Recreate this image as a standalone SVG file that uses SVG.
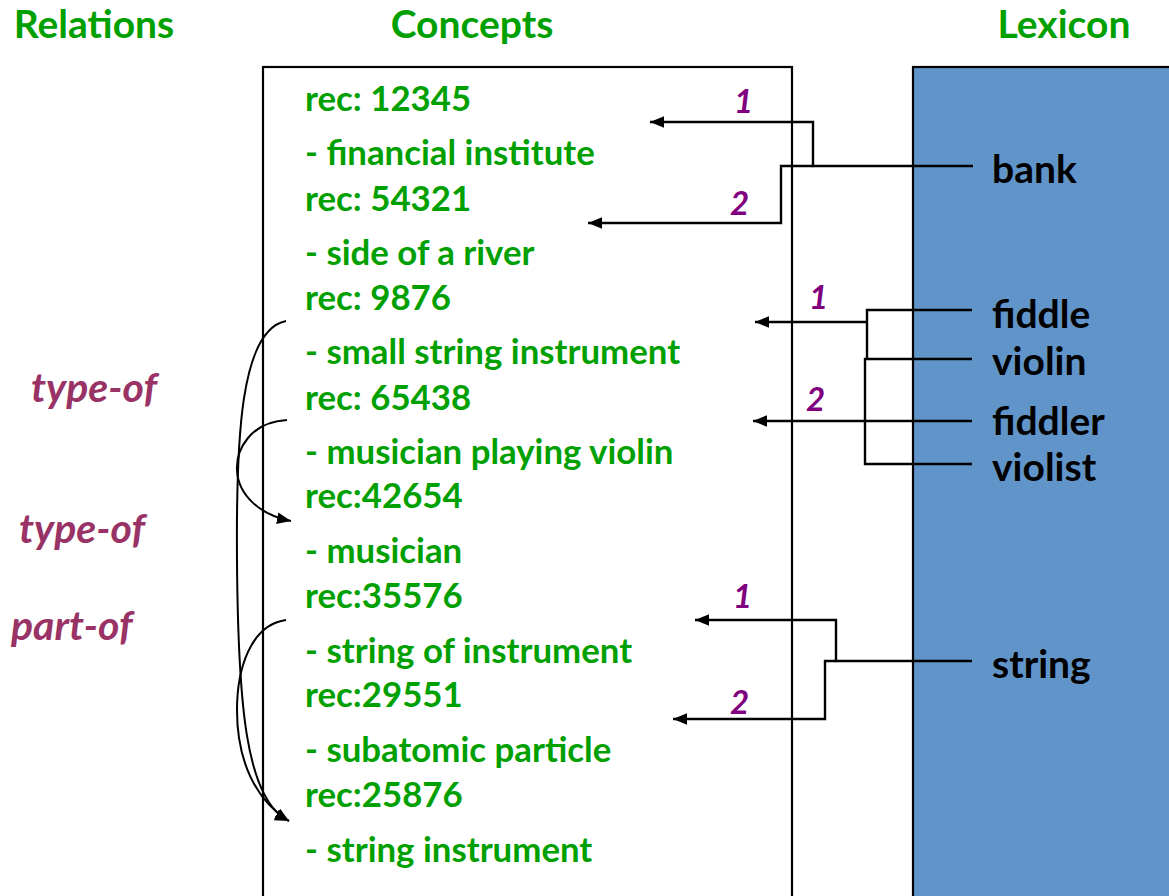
<svg xmlns="http://www.w3.org/2000/svg" width="1169" height="896" viewBox="0 0 1169 896">
  <defs>
    <marker id="arrow" viewBox="0 0 12 10" refX="12" refY="5" markerWidth="14" markerHeight="12" markerUnits="userSpaceOnUse" orient="auto">
      <path d="M0,0 L12,5 L0,10 Z" fill="#000"/>
    </marker>
    <style>
      .title { font-family: Lato, "Liberation Sans", sans-serif; font-weight: bold; font-size: 39px; fill: #00A000; text-anchor: middle; }
      .concept { font-family: Lato, "Liberation Sans", sans-serif; font-weight: bold; font-size: 34.8px; fill: #00A000; }
      .word { font-family: Lato, "Liberation Sans", sans-serif; font-weight: bold; font-size: 39px; fill: #000; }
      .rel { font-family: Lato, "Liberation Sans", sans-serif; font-weight: bold; font-style: italic; font-size: 41px; fill: #993366; }
      .num { font-family: Lato, "Liberation Sans", sans-serif; font-weight: bold; font-style: italic; font-size: 33px; fill: #800080; }
      .box { stroke: #000; stroke-width: 2.2; }
      .link { fill: none; stroke: #000; stroke-width: 2.4; }
      .arc { fill: none; stroke: #000; stroke-width: 2; }
    </style>
  </defs>

  <!-- column headings -->
  <g id="headings">
    <text class="title" x="94" y="38">Relations</text>
    <text class="title" x="472" y="38">Concepts</text>
    <text class="title" x="1064" y="38">Lexicon</text>
  </g>

  <!-- lexicon panel -->
  <g id="lexicon">
    <rect class="box" x="913" y="67" width="270" height="850" fill="#6194C9"/>
    <text class="word" x="992" y="183">bank</text>
    <text class="word" x="992" y="328">fiddle</text>
    <text class="word" x="992" y="375">violin</text>
    <text class="word" x="992" y="435">fiddler</text>
    <text class="word" x="992" y="481">violist</text>
    <text class="word" x="992" y="678">string</text>
  </g>

  <!-- concept records -->
  <g id="concepts">
    <rect class="box" x="263" y="67" width="529" height="850" fill="#fff"/>
    <text class="concept" x="305" y="111">rec: 12345</text>
    <text class="concept" x="305" y="165">- financial institute</text>
    <text class="concept" x="305" y="211">rec: 54321</text>
    <text class="concept" x="305" y="265">- side of a river</text>
    <text class="concept" x="305" y="310">rec: 9876</text>
    <text class="concept" x="305" y="364">- small string instrument</text>
    <text class="concept" x="305" y="410">rec: 65438</text>
    <text class="concept" x="305" y="464">- musician playing violin</text>
    <text class="concept" x="305" y="508">rec:42654</text>
    <text class="concept" x="305" y="563">- musician</text>
    <text class="concept" x="305" y="608">rec:35576</text>
    <text class="concept" x="305" y="663">- string of instrument</text>
    <text class="concept" x="305" y="707">rec:29551</text>
    <text class="concept" x="305" y="762">- subatomic particle</text>
    <text class="concept" x="305" y="807">rec:25876</text>
    <text class="concept" x="305" y="862">- string instrument</text>
  </g>

  <!-- relation labels -->
  <g id="relations">
    <text class="rel" x="31" y="402">type-of</text>
    <text class="rel" x="19" y="543">type-of</text>
    <text class="rel" x="11" y="640">part-of</text>
  </g>

  <!-- word-to-concept links and relation arcs -->
  <g id="connectors">
    <path class="link" d="M973,166 H813 V122 H650" marker-end="url(#arrow)"/>
    <path class="link" d="M813,166 H781 V223 H588" marker-end="url(#arrow)"/>

    <path class="link" d="M972,310 H867 V359"/>
    <path class="link" d="M867,322 H755" marker-end="url(#arrow)"/>
    <path class="link" d="M972,359 H865 V464 H972"/>
    <path class="link" d="M972,421 H753" marker-end="url(#arrow)"/>

    <path class="link" d="M972,661 H836 V620 H695" marker-end="url(#arrow)"/>
    <path class="link" d="M836,661 H825 V719 H673" marker-end="url(#arrow)"/>

    <path class="arc" d="M286,321 C240,330 236,440 237,560 C238,700 245,800 289,821" marker-end="url(#arrow)"/>
    <path class="arc" d="M287,420 C250,422 236,450 237,470 C238,495 260,515 291,521" marker-end="url(#arrow)"/>
    <path class="arc" d="M286,620 C250,625 237,670 237,710 C237,760 255,800 289,821" marker-end="url(#arrow)"/>

    <text class="num" x="734" y="113">1</text>
    <text class="num" x="730" y="215">2</text>
    <text class="num" x="809" y="309">1</text>
    <text class="num" x="806" y="411">2</text>
    <text class="num" x="733" y="608">1</text>
    <text class="num" x="730" y="714">2</text>
  </g>
</svg>
